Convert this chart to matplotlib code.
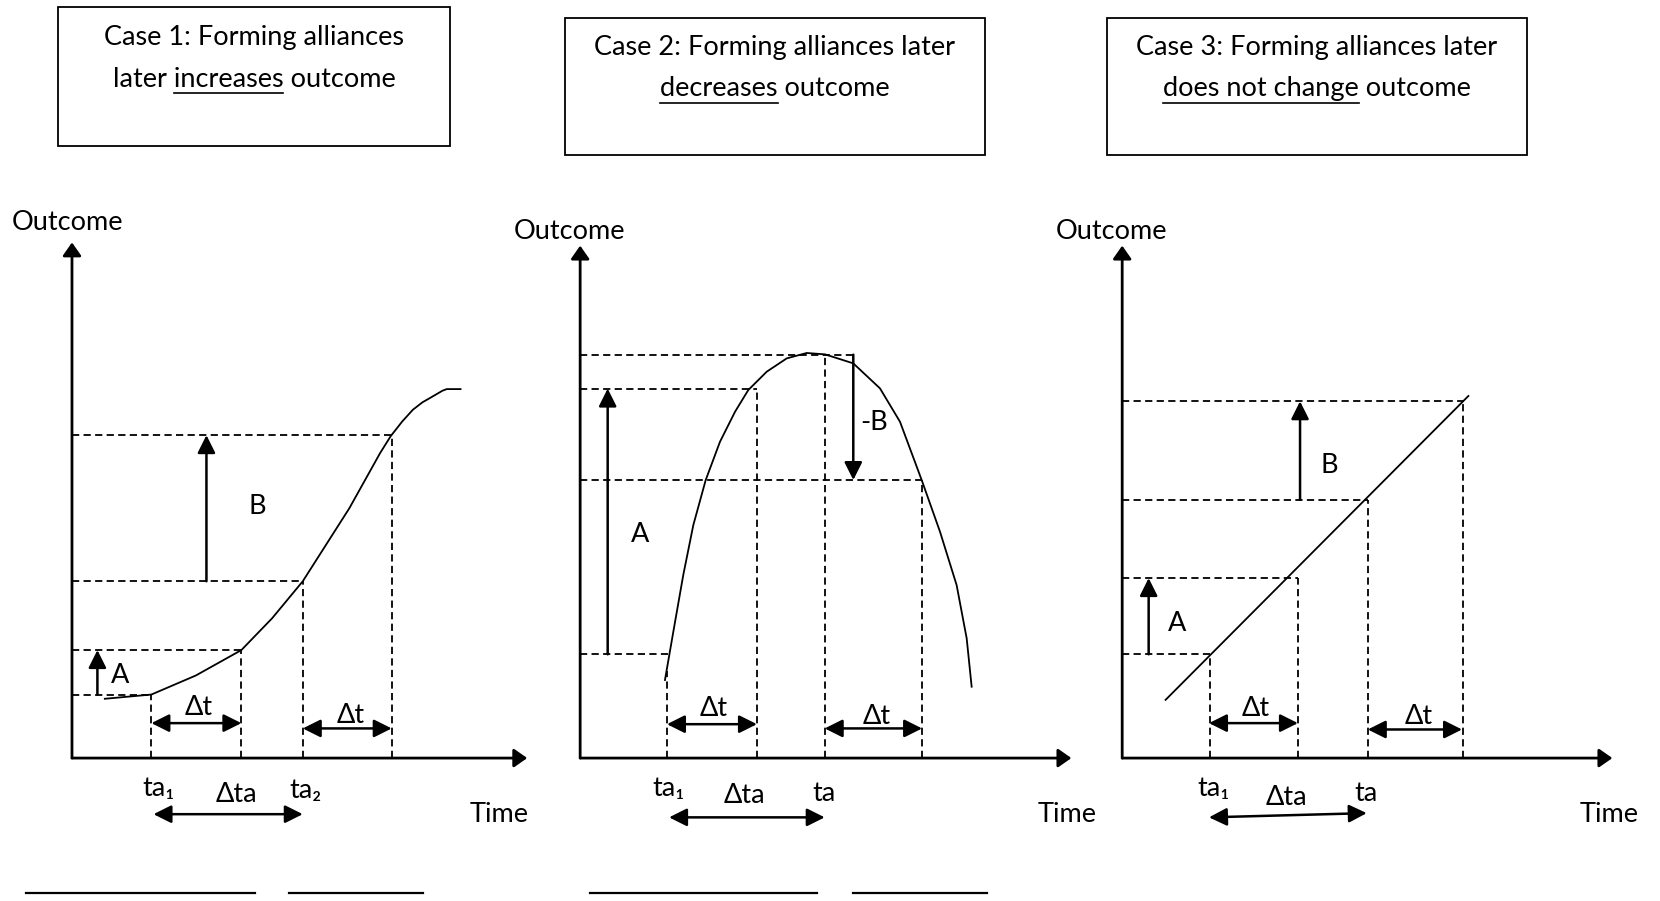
import matplotlib
matplotlib.use("Agg")
import matplotlib.pyplot as plt
from matplotlib.patches import Rectangle

plt.rcParams['font.family'] = ['Lato', 'Noto Sans', 'DejaVu Sans']

# reference layout units (1568 x 851 view of the 1660 x 901 picture)
W, H = 1568, 851
FS = 19.5

# === DATA: each panel in (time, outcome) units, origin at the axis corner ===
# Case 1: S-shaped curve
c1_curve_t = [31, 75, 117, 160, 189, 218, 262, 291, 301, 312, 322, 331, 338, 350, 354, 367]
c1_curve_o = [56, 60, 78, 102, 132, 167, 236, 288, 304, 318, 329, 336, 340, 347, 348.5, 348.5]
c1_hguides = [(60, 75), (102, 160), (167, 218), (305, 302)]      # (outcome, time end)
c1_vguides = [(75, 60), (160, 102), (218, 167), (302, 305)]      # (time, outcome end)
c1_varrows = [(24, 60, 102, "A", 45, 78), (127, 167, 305, "B", 175, 238)]
c1_dt = [(75, 160, 33, 120, 48), (218, 302, 28, 263, 40)]
c1_dta = (77, -53, 218, -53)
c1_ticks = [("ta₁", 82, -29), ("Δta", 155, -34), ("ta₂", 221, -31)]
c1_time_lbl = (403, -53)
c1_out_lbl = (-4, 506)
c1_tips = (430, 487)
c1_blanks = [(-43, 173), (205, 332)]

# Case 2: inverted U
c2_curve_t = [80.1, 88, 97.4, 106.9, 118.6, 132.1, 146.3, 158.8, 176.2, 195.1, 214,
              231.3, 258, 283.2, 302.1, 322.6, 339.9, 355.6, 365.1, 369.8]
c2_curve_o = [73.7, 119.3, 172.9, 220.1, 262.6, 298.8, 327.1, 347.6, 364.9, 377.5, 382.6,
              381.3, 372.8, 349.2, 317.7, 262.6, 213.8, 163.4, 113.1, 67.4]
c2_hguides = [(98, 83), (349, 167), (262.6, 323), (381, 258)]
c2_vguides = [(82, 82), (167, 349), (231, 381), (323, 262.6)]
c2_varrows = [(26, 98, 349, "A", 57, 211), (258, 381, 262.6, "-B", 278, 317)]
c2_dt = [(82, 167, 32, 126, 47), (231, 323, 28, 280, 39)]
c2_dta = (84, -56, 231, -56)
c2_ticks = [("ta₁", 83, -29), ("Δta", 155, -35), ("ta", 230, -33)]
c2_time_lbl = (460, -53)
c2_out_lbl = (-10, 497)
c2_tips = (464, 484)
c2_blanks = [(9, 224), (258, 384)]

# Case 3: straight line
c3_curve_t = [41, 327]
c3_curve_o = [55, 342]
c3_hguides = [(98, 83), (170, 166), (244, 232), (337, 323)]
c3_vguides = [(83, 98), (166, 170), (232, 244), (322, 337)]
c3_varrows = [(25, 98, 170, "A", 52, 127), (168, 244, 337, "B", 196, 276)]
c3_dt = [(82, 166, 33, 126, 47), (232, 321, 27, 280, 39)]
c3_dta = (82, -56, 231, -52)
c3_ticks = [("ta₁", 86, -29), ("Δta", 155, -37), ("ta", 230, -33)]
c3_time_lbl = (460, -53)
c3_out_lbl = (-10, 497)
c3_tips = (463, 484)
c3_blanks = []

origins = [(68, 716), (548, 716), (1060, 716)]

# title boxes: (x0, y0, x1, y1), line centres, text
boxes = [(55, 7, 425, 138), (534, 17, 930, 146), (1046, 17, 1442, 146)]
box_cx = [240, 732, 1244]
box_y = [(35, 75), (45, 84), (45, 84)]
box_line1 = ["Case 1: Forming alliances", "Case 2: Forming alliances later",
             "Case 3: Forming alliances later"]
box_line2 = [("later ", "increases", " outcome"), ("", "decreases", " outcome"),
             ("", "does not change", " outcome")]

fig = plt.figure(figsize=(16.6, 9.01), dpi=100)
over = fig.add_axes([0, 0, 1, 1])
over.set_xlim(0, W)
over.set_ylim(H, 0)
over.axis('off')

dash = dict(color='k', lw=1.3, dashes=(4, 2.4))


def arrow(ax, x0, y0, x1, y1, style='-|>', hl=0.54, hw=0.27, lw=1.8):
    ax.annotate('', xy=(x1, y1), xytext=(x0, y0), annotation_clip=False,
                arrowprops=dict(arrowstyle=f'{style},head_length={hl},head_width={hw}',
                                mutation_scale=20, lw=lw, color='k',
                                shrinkA=0, shrinkB=0))


def panel(ox, oy, ct, co, hg, vg, va, dts, dta, ticks, tlbl, olbl, tips, blanks):
    ax = fig.add_axes([(ox - 60) / W, (H - oy - 130) / H, 540 / W, 650 / H])
    ax.set_xlim(-60, 480)
    ax.set_ylim(-130, 520)
    ax.axis('off')
    # axes with arrow heads
    arrow(ax, 0, 0, tips[0], 0, hl=0.4, hw=0.28, lw=2.0)
    arrow(ax, 0, 0, 0, tips[1], hl=0.4, hw=0.28, lw=2.0)
    ax.plot(ct, co, color='k', lw=1.3, clip_on=False, solid_joinstyle='round')
    for o, t in hg:
        ax.plot([0, t], [o, o], clip_on=False, **dash)
    for t, o in vg:
        ax.plot([t, t], [0, o], clip_on=False, **dash)
    for t, o0, o1, lbl, lx, ly in va:
        arrow(ax, t, o0, t, o1)
        ax.text(lx, ly, lbl, fontsize=FS, ha='center', va='center')
    for t0, t1, o, lx, ly in dts:
        arrow(ax, t0, o, t1, o, style='<|-|>')
        ax.text(lx, ly, "Δt", fontsize=FS, ha='center', va='center')
    arrow(ax, dta[0], dta[1], dta[2], dta[3], style='<|-|>')
    for s, x, y in ticks:
        ax.text(x, y, s, fontsize=FS, ha='center', va='center')
    ax.text(tlbl[0], tlbl[1], "Time", fontsize=FS, ha='center', va='center')
    ax.text(olbl[0], olbl[1], "Outcome", fontsize=FS, ha='center', va='center')
    for x0, x1 in blanks:
        ax.plot([x0, x1], [-127, -127], color='k', lw=1.6, clip_on=False)


panel(*origins[0], c1_curve_t, c1_curve_o, c1_hguides, c1_vguides, c1_varrows,
      c1_dt, c1_dta, c1_ticks, c1_time_lbl, c1_out_lbl, c1_tips, c1_blanks)
panel(*origins[1], c2_curve_t, c2_curve_o, c2_hguides, c2_vguides, c2_varrows,
      c2_dt, c2_dta, c2_ticks, c2_time_lbl, c2_out_lbl, c2_tips, c2_blanks)
panel(*origins[2], c3_curve_t, c3_curve_o, c3_hguides, c3_vguides, c3_varrows,
      c3_dt, c3_dta, c3_ticks, c3_time_lbl, c3_out_lbl, c3_tips, c3_blanks)

# title boxes with underlined key words
renderer = fig.canvas.get_renderer()
scale = W / 1660.0


def text_w(s):
    t = over.text(0, 0, s, fontsize=FS)
    w = t.get_window_extent(renderer).width * scale
    t.remove()
    return w


for (x0, y0, x1, y1), cx, (ya, yb), l1, (pre, word, post) in zip(
        boxes, box_cx, box_y, box_line1, box_line2):
    over.add_patch(Rectangle((x0, y0), x1 - x0, y1 - y0, fill=False, ec='k', lw=1.3))
    over.text(cx, ya, l1, fontsize=FS, ha='center', va='center')
    full = pre + word + post
    over.text(cx, yb, full, fontsize=FS, ha='center', va='center')
    left = cx - text_w(full) / 2
    end = left + text_w(pre + word)
    start = end - text_w(word)
    over.plot([start, end], [yb + 13, yb + 13], color='k', lw=1.2)

fig.savefig("out.png", dpi=100)
